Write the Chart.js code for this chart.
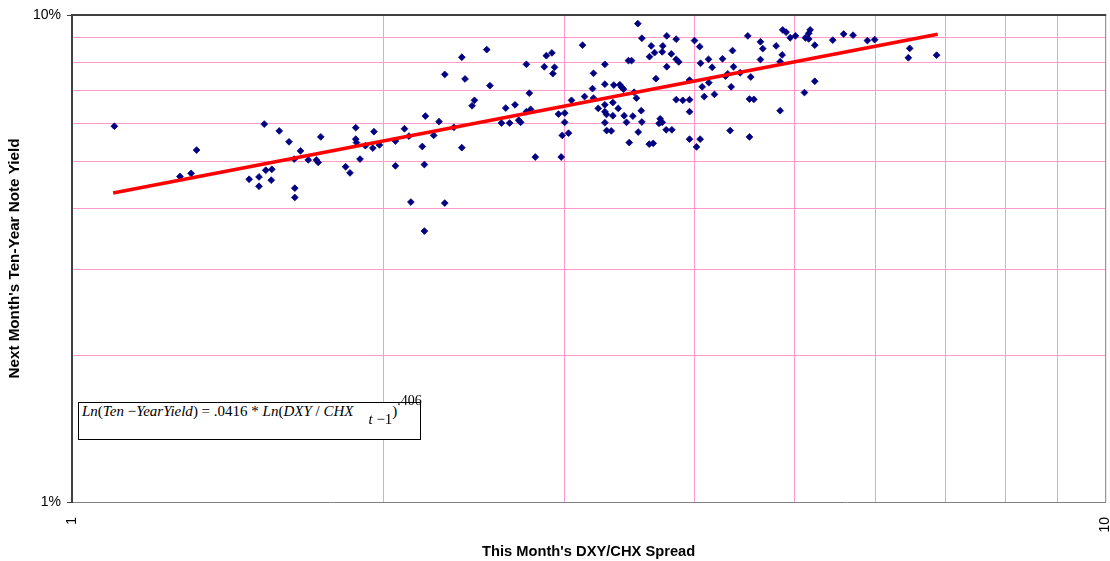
<!DOCTYPE html>
<html>
<head>
    <title>DXY/CHX Spread vs Ten-Year Note Yield</title>
    <script src="https://cdn.jsdelivr.net/npm/chart.js"></script>
    <style>
        body { margin: 0; background: #fff; }
        #wrap { position: relative; width: 1110px; height: 561px; }
        #eq {
            position: absolute; left: 78px; top: 402px; width: 343px; height: 38px;
            box-sizing: border-box; border: 1px solid #000; background: #fff;
            font-family: "Liberation Serif", "Times New Roman", serif; font-size: 15px;
            line-height: 17px; padding-left: 3px; white-space: nowrap; color: #000;
        }
        #eq i { font-style: italic; }
        #eq .sub { position: relative; top: 8px; margin-left: 15px; }
        #eq .sup { position: relative; top: -11px; font-size: 14px; }
    </style>
</head>
<body>
    <div id="wrap">
        <canvas id="chart" width="1110" height="561"></canvas>
        <div id="eq"><i>Ln</i>(<i>Ten</i> −<i>YearYield</i>) = .0416 * <i>Ln</i>(<i>DXY</i> / <i>CHX</i><span class="sub"><i>t</i> −1</span>)<span class="sup">.406</span></div>
    </div>

    <script>
        // DXY/CHX spread this month (x) and next month's ten-year yield in % (y)
        var spread = [1.099, 1.535, 1.587, 1.320, 1.272, 1.304, 1.484, 1.517, 1.517, 1.540,
            1.561, 1.559, 1.622, 1.664, 1.641, 1.693, 1.724, 1.731, 1.741, 1.643,
            1.643, 1.840, 1.858, 1.882, 1.882, 1.885, 1.900, 1.923, 1.960, 1.955,
            1.984, 2.056, 2.056, 2.098, 2.119, 2.128, 2.183, 2.193, 2.198, 2.193,
            2.239, 2.266, 2.295, 2.295, 2.342, 2.384, 2.384, 2.520, 2.401, 2.538,
            2.452, 2.439, 2.604, 2.629, 2.652, 2.684, 2.706, 2.718, 2.753, 2.771,
            2.753, 2.779, 2.808, 2.865, 2.878, 2.914, 2.931, 2.920, 2.957, 2.999,
            2.998, 2.982, 3.024, 2.975, 3.044, 3.120, 3.134, 3.197, 3.190, 3.197,
            3.231, 3.279, 3.279, 3.279, 3.279, 3.291, 3.279, 3.292, 3.529, 3.561,
            3.764, 3.844, 3.636, 3.731, 3.663, 3.622, 3.726, 3.802, 3.844, 3.866,
            3.456, 3.480, 3.764, 3.674, 3.345, 3.390, 3.405, 3.418, 3.500, 3.518,
            3.338, 3.378, 3.338, 3.423, 3.441, 3.490, 3.556, 3.561, 3.709, 3.726,
            3.700, 3.759, 3.807, 3.326, 3.532, 3.462, 3.620, 3.652, 3.844, 3.901,
            3.960, 3.960, 3.960, 4.004, 4.051, 4.058, 4.131, 4.165, 4.073, 4.134,
            4.092, 4.186, 4.262, 4.358, 4.368, 4.290, 4.312, 4.345, 4.433, 4.509,
            4.539, 4.638, 4.662, 4.638, 4.526, 4.570, 3.960, 4.055, 4.022, 4.335,
            4.526, 4.803, 4.868, 4.846, 4.846, 4.874, 4.911, 4.956, 5.014, 5.181,
            5.165, 5.127, 5.165, 5.235, 5.449, 5.583, 5.701, 5.886, 5.982, 6.468,
            6.449, 6.868, 5.235, 5.116];
        var yieldNext = [5.91, 5.97, 5.78, 5.28, 4.66, 4.73, 4.60, 4.65, 4.45, 4.80,
            4.82, 4.58, 5.49, 5.26, 5.06, 5.04, 5.04, 4.98, 5.62, 4.41,
            4.22, 4.88, 4.74, 5.87, 5.56, 5.47, 5.06, 5.39, 5.76, 5.33,
            5.41, 5.51, 4.90, 5.84, 5.64, 4.13, 5.37, 4.93, 6.20, 3.60,
            5.66, 6.04, 7.55, 4.11, 5.88, 8.19, 5.34, 8.49, 7.39, 7.16,
            6.68, 6.51, 6.00, 6.44, 6.00, 6.54, 6.08, 6.02, 7.92, 6.91,
            6.33, 6.40, 5.11, 7.83, 8.25, 8.36, 7.81, 7.58, 6.26, 6.29,
            6.02, 5.66, 5.72, 5.11, 6.68, 8.67, 6.80, 7.59, 7.06, 6.75,
            6.43, 7.92, 7.21, 6.54, 6.33, 6.25, 6.01, 5.79, 9.60, 8.96,
            9.06, 8.92, 8.64, 8.64, 8.37, 8.21, 8.40, 8.32, 8.11, 8.01,
            8.06, 8.06, 7.83, 7.40, 7.18, 7.19, 7.10, 7.04, 6.94, 6.75,
            6.61, 6.43, 6.21, 6.21, 6.02, 6.20, 6.36, 6.03, 6.12, 6.02,
            5.99, 5.81, 5.81, 5.78, 5.75, 5.47, 5.43, 5.45, 6.70, 6.68,
            6.70, 6.33, 7.35, 8.86, 8.61, 7.96, 8.11, 7.81, 7.12, 7.26,
            6.80, 6.87, 8.13, 8.45, 7.83, 7.49, 7.57, 7.12, 7.61, 9.06,
            7.46, 8.81, 8.53, 8.10, 6.72, 6.71, 5.56, 5.56, 5.36, 5.79,
            5.62, 8.64, 8.28, 8.02, 6.36, 9.32, 9.22, 8.98, 9.06, 9.32,
            9.17, 8.98, 8.93, 8.67, 8.88, 9.14, 9.09, 8.86, 8.90, 8.54,
            8.17, 8.27, 7.31, 6.93];

        // power trendline end points
        var trendX = [1.096, 6.884];
        var trendY = [4.31, 9.13];

        // gridline positions (one decade on each axis) and labelled ticks
        var gridSteps = [1, 2, 3, 4, 5, 6, 7, 8, 9, 10];
        var xTickLabels = { 1: '1', 10: '10' };
        var yTickLabels = { 1: '1%', 10: '10%' };

        var points = spread.map(function (x, i) { return { x: x, y: yieldNext[i] }; });
        var trend = trendX.map(function (x, i) { return { x: x, y: trendY[i] }; });

        function isEnd(v) { return Math.abs(v - 1) < 1e-9 || Math.abs(v - 10) < 1e-9; }
        function setTicks(s) { s.ticks = gridSteps.map(function (v) { return { value: v }; }); }

        var frame = {
            id: 'frame',
            beforeDatasetsDraw: function (chart) {
                var ctx = chart.ctx, a = chart.chartArea;
                ctx.save();
                ctx.strokeStyle = '#808080';
                ctx.lineWidth = 1;
                ctx.beginPath();
                ctx.moveTo(a.right + 0.5, a.top);
                ctx.lineTo(a.right + 0.5, a.bottom);
                ctx.stroke();
                ctx.strokeStyle = '#404040';
                ctx.lineWidth = 2;
                ctx.beginPath();
                ctx.moveTo(a.left - 1, a.top);
                ctx.lineTo(a.right + 1, a.top);
                ctx.stroke();
                ctx.restore();
            }
        };

        var font = "Arial, 'Liberation Sans', sans-serif";

        new Chart(document.getElementById('chart').getContext('2d'), {
            type: 'scatter',
            data: {
                datasets: [{
                    type: 'line',
                    data: trend,
                    borderColor: '#ff0000',
                    borderWidth: 3.5,
                    pointRadius: 0,
                    fill: false
                }, {
                    data: points,
                    pointStyle: 'rectRot',
                    pointRadius: 3.4,
                    pointBorderWidth: 0.8,
                    backgroundColor: '#000080',
                    borderColor: '#000080'
                }]
            },
            options: {
                responsive: false,
                animation: false,
                layout: { padding: { top: 15, right: 4, left: 0, bottom: 0 } },
                plugins: { legend: { display: false }, tooltip: { enabled: false } },
                scales: {
                    x: {
                        type: 'logarithmic',
                        min: 1,
                        max: 10,
                        afterBuildTicks: setTicks,
                        afterFit: function (s) { s.height = 59; s.paddingLeft = 0; s.paddingRight = 0; },
                        grid: {
                            color: function (c) { return c.tick && isEnd(c.tick.value) ? 'rgba(0,0,0,0)' : '#ff99cc'; },
                            lineWidth: 1,
                            drawTicks: false
                        },
                        border: { color: '#808080', width: 1 },
                        ticks: {
                            autoSkip: false,
                            minRotation: 90,
                            maxRotation: 90,
                            padding: 15,
                            color: '#000',
                            font: { family: font, size: 14 },
                            callback: function (v) { return xTickLabels[v] || ''; }
                        },
                        title: {
                            display: true,
                            text: "This Month's DXY/CHX Spread",
                            color: '#000',
                            font: { family: font, size: 14.7, weight: 'bold' },
                            padding: { top: 0, bottom: 0 }
                        }
                    },
                    y: {
                        type: 'logarithmic',
                        min: 1,
                        max: 10,
                        afterBuildTicks: setTicks,
                        afterFit: function (s) { s.width = 72; },
                        grid: {
                            color: function (c) { return c.tick && isEnd(c.tick.value) ? 'rgba(0,0,0,0)' : '#ff99cc'; },
                            tickColor: function (c) { return c.tick && isEnd(c.tick.value) ? '#404040' : 'rgba(0,0,0,0)'; },
                            tickLength: 5,
                            lineWidth: 1
                        },
                        border: { color: '#404040', width: 2 },
                        ticks: {
                            autoSkip: false,
                            padding: 6,
                            color: '#000',
                            font: { family: font, size: 14 },
                            callback: function (v) { return yTickLabels[v] || ''; }
                        },
                        title: {
                            display: true,
                            text: "Next Month's Ten-Year Note Yield",
                            color: '#000',
                            font: { family: font, size: 15.2, weight: 'bold' },
                            padding: { top: 6, bottom: 0 }
                        }
                    }
                }
            },
            plugins: [frame]
        });
    </script>
</body>
</html>
